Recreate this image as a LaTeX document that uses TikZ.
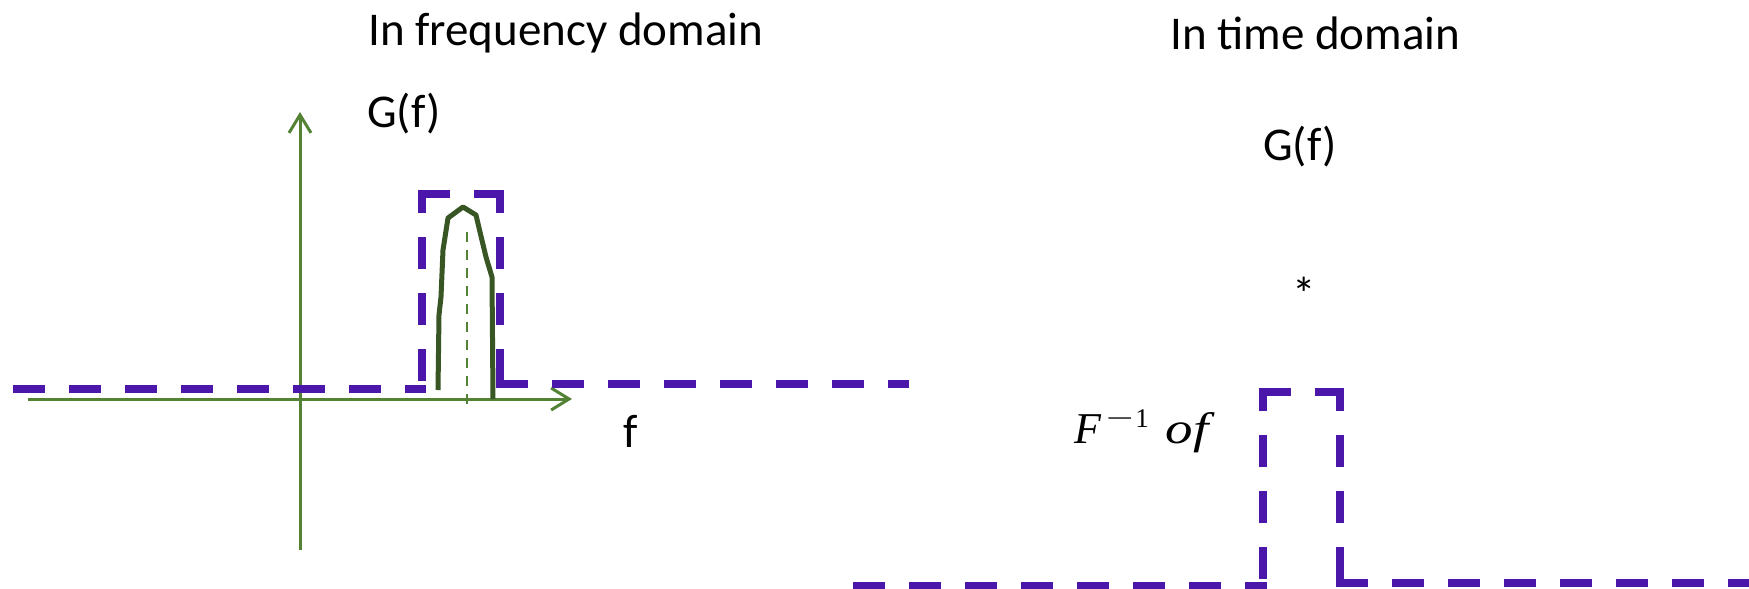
\documentclass[tikz,border=0pt]{standalone}
\usepackage{fontspec}
\setmainfont{Carlito}
\newfontfamily\serifit{Liberation Serif}
\usetikzlibrary{arrows.meta}
\definecolor{purp}{HTML}{4B16AA}
\definecolor{axgreen}{HTML}{548235}
\definecolor{curvegreen}{HTML}{375623}
\begin{document}
\begin{tikzpicture}[x=1pt,y=-1pt,
  lbl/.style={inner sep=0pt,anchor=base west,font=\fontsize{47}{56}\selectfont},
  purpline/.style={draw=purp,line width=8pt,dash pattern=on 32pt off 24pt},
  purpvert/.style={purpline,dash phase=9pt},
  axis/.style={draw=axgreen,line width=3pt,-{Straight Barb[length=18pt,width=22pt,line width=3pt]}},
  curve/.style={draw=curvegreen,line width=5pt,line join=round},
  center/.style={draw=axgreen,line width=2pt,dash pattern=on 10pt off 8pt}]
\useasboundingbox (0,0) rectangle (1749,589);
% texts
\node[lbl] (tfreq) at (368,45) {In frequency domain};
\node[lbl] (ttime) at (1170,49) {In time domain};
\node[lbl] (gl) at (367,127) {G(f)};
\node[lbl] (gr) at (1263,160) {G(f)};
\node[lbl] (star) at (1292,310) {*};
\node[lbl] (fl) at (623,447) {f};
\node[inner sep=0pt,anchor=base west,font=\serifit\fontsize{44}{50}\selectfont] (finv) at (1074,443)
  {\itshape F\hspace{5pt}\raisebox{16pt}{\upshape\fontsize{27}{30}\selectfont\scalebox{1.8}[1]{−}\hspace{2pt}1}\hspace{17pt}\scalebox{1.25}[1]{of}};
% axes
\coordinate (xa0) at (28,399);
\coordinate (xa1) at (572,399);
\coordinate (ya0) at (300,550);
\coordinate (ya1) at (300,112);
\draw[axis] (xa0) -- (xa1);
\draw[axis] (ya0) -- (ya1);
% left purple rect pulse
\coordinate (p0) at (13,389);
\coordinate (p1) at (426,389);
\coordinate (p1b) at (422,389);
\coordinate (p2) at (422,190);
\coordinate (p2b) at (418,194);
\coordinate (p3) at (504,194);
\coordinate (p3b) at (500,190);
\coordinate (p4) at (500,384);
\coordinate (p4b) at (496,384);
\coordinate (p5) at (909,384);
\draw[purpline] (p0) -- (p1);
\draw[purpvert] (p2) -- (p1b);
\draw[purpline] (p2b) -- (p3);
\draw[purpvert] (p3b) -- (p4);
\draw[purpline] (p4b) -- (p5);
% green center dashed
\coordinate (c0) at (467,232);
\coordinate (c1) at (467,408);
\draw[center] (c0) -- (c1);
% green curve
\draw[curve] (438,390) -- (439,315) -- (441,297) -- (443,250) -- (448,218) -- (463,207) -- (476,215) -- (480,232) -- (486,257) -- (492,277) -- (493,399);
% right purple pulse
\coordinate (q0) at (853,586);
\coordinate (q1) at (1267,586);
\coordinate (q1b) at (1263,586);
\coordinate (q2) at (1263,388);
\coordinate (q2b) at (1259,392);
\coordinate (q3) at (1344,392);
\coordinate (q3b) at (1340,388);
\coordinate (q4) at (1340,583);
\coordinate (q4b) at (1336,583);
\coordinate (q5) at (1749,583);
\draw[purpline] (q0) -- (q1);
\draw[purpvert] (q2) -- (q1b);
\draw[purpline] (q2b) -- (q3);
\draw[purpvert] (q3b) -- (q4);
\draw[purpline] (q4b) -- (q5);
\end{tikzpicture}
\end{document}
